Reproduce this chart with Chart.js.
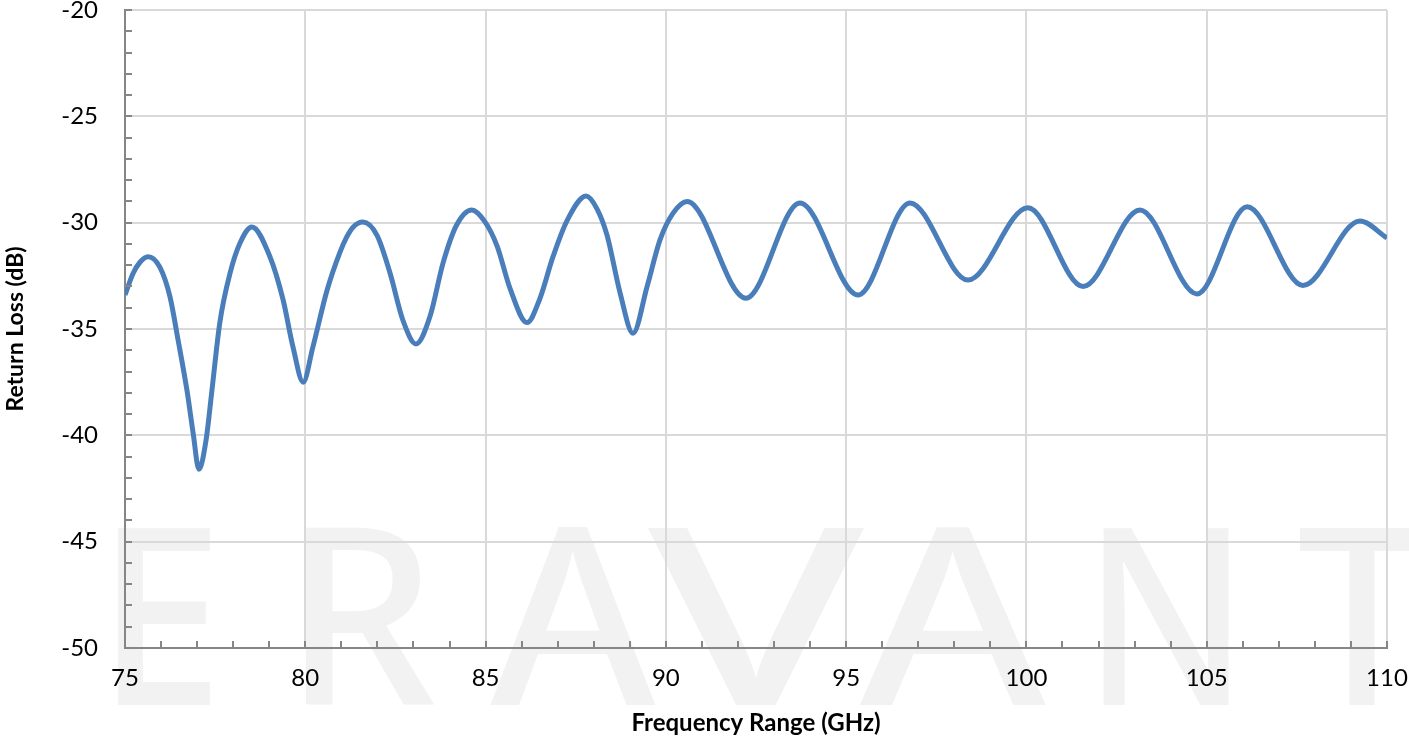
<!DOCTYPE html>
<html>
<head>
<meta charset="utf-8">
<script src="https://cdn.jsdelivr.net/npm/chart.js@4.4.1/dist/chart.umd.min.js"></script>
<style>
  html, body { margin: 0; padding: 0; background: #ffffff; }
  #wrap { width: 1409px; height: 740px; }
</style>
</head>
<body>
<div id="wrap"><canvas id="canvas-line" width="1409" height="740"></canvas></div>
<script>
// frequency points (GHz); denser where the dips are sharp
const frequency = [
  75.00, 75.22, 75.42, 75.64, 75.97, 76.25, 76.47, 76.72, 76.89, 77.05,
  77.25, 77.41, 77.63, 77.91, 78.19, 78.52, 79.02, 79.38, 79.66, 79.94,
  80.21, 80.60, 80.96, 81.15, 81.33, 81.60, 81.99, 82.35, 82.71, 83.07,
  83.46, 83.82, 84.20, 84.62, 84.98, 85.32, 85.68, 86.15, 86.50, 86.87,
  87.26, 87.79, 88.09, 88.37, 88.73, 89.09, 89.48, 89.84, 90.20, 90.59,
  92.22, 93.72, 95.33, 96.77, 98.38, 100.04, 101.57, 103.15, 104.73, 106.12,
  107.67, 109.25, 110.00,
];

// return loss (dB) at each of those points
const returnLoss = [
  -33.4, -32.4, -31.85, -31.6, -32.1, -33.5, -35.5, -37.9, -39.9, -41.6,
  -40.2, -37.9, -34.7, -32.4, -30.96, -30.2, -31.6, -33.6, -35.85, -37.5,
  -35.85, -33.2, -31.4, -30.67, -30.2, -29.97, -30.6, -32.37, -34.6, -35.7,
  -34.4, -31.9, -30.1, -29.4, -29.95, -31.1, -33.1, -34.7, -33.6, -31.6,
  -29.9, -28.75, -29.35, -30.6, -33.3, -35.2, -33.0, -30.8, -29.55, -29.0,
  -33.55, -29.07, -33.4, -29.07, -32.7, -29.3, -33.0, -29.4, -33.35, -29.25,
  -32.95, -29.92, -30.72,
];

const xMin = 75, xMax = 110, xStep = 5;
const yMin = -50, yMax = -20, yStep = 5;

// watermark letters: [letter, centre x, width]
const watermark = [
  ["E", 160, 127],
  ["R", 360, 153],
  ["A", 573, 165],
  ["V", 756, 216],
  ["A", 953, 186],
  ["N", 1166, 165],
  ["T", 1362, 130],
];

const FONT = "Lato, 'Open Sans', sans-serif";
const AXIS_GREY = "#868686";

window.onload = function () {
  const ctx = document.getElementById("canvas-line");

  const points = frequency.map((f, i) => ({ x: f, y: returnLoss[i] }));

  const backdrop = {
    id: "backdrop",
    beforeDraw(chart) {
      const c = chart.ctx;
      c.save();
      c.fillStyle = "#ffffff";
      c.fillRect(0, 0, chart.width, chart.height);
      c.fillStyle = "#f2f2f2";
      c.font = "500 248px 'Noto Sans', sans-serif";
      c.textAlign = "center";
      c.textBaseline = "alphabetic";
      watermark.forEach(([ch, cx, w]) => {
        const m = c.measureText(ch).width;
        c.save();
        c.translate(cx, 705);
        c.scale(w / m, 1);
        c.fillText(ch, 0, 0);
        c.restore();
      });
      c.restore();
    },
  };

  // small tick marks pointing into the plot, one every unit
  const minorTicks = {
    id: "minorTicks",
    afterDraw(chart) {
      const c = chart.ctx;
      const xs = chart.scales.x;
      const ys = chart.scales.y;
      const area = chart.chartArea;
      c.save();
      c.strokeStyle = AXIS_GREY;
      c.lineWidth = 2;
      c.beginPath();
      for (let v = xMin; v <= xMax; v++) {
        const px = Math.round(xs.getPixelForValue(v));
        c.moveTo(px, area.bottom);
        c.lineTo(px, area.bottom - 7);
      }
      for (let v = yMin; v <= yMax; v++) {
        const py = Math.round(ys.getPixelForValue(v));
        c.moveTo(area.left, py);
        c.lineTo(area.left + 7, py);
      }
      c.stroke();
      c.restore();
    },
  };

  const config = {
    type: "line",
    data: {
      datasets: [
        {
          label: "Return Loss",
          data: points,
          borderColor: "#4a7ebb",
          backgroundColor: "#4a7ebb",
          borderWidth: 5,
          pointRadius: 0,
          fill: false,
          cubicInterpolationMode: "monotone",
        },
      ],
    },
    options: {
      responsive: false,
      animation: false,
      devicePixelRatio: 1,
      layout: {
        padding: { top: 10, right: 22, left: 0, bottom: 0 },
      },
      scales: {
        x: {
          type: "linear",
          min: xMin,
          max: xMax,
          afterFit(scale) {
            scale.height = 92;
            scale.paddingLeft = 0;
            scale.paddingRight = 0;
          },
          ticks: {
            stepSize: xStep,
            color: "#000000",
            padding: 16,
            maxRotation: 0,
            font: { family: FONT, size: 24 },
          },
          grid: {
            color: "#d9d9d9",
            lineWidth: 2,
            drawTicks: false,
          },
          border: { display: true, color: AXIS_GREY, width: 2 },
          title: {
            display: true,
            text: "Frequency Range (GHz)",
            color: "#000000",
            padding: { top: 0, bottom: 2 },
            font: { family: FONT, size: 24, weight: "bold" },
          },
        },
        y: {
          type: "linear",
          min: yMin,
          max: yMax,
          afterFit(scale) {
            scale.width = 125;
            scale.paddingTop = 0;
            scale.paddingBottom = 0;
          },
          ticks: {
            stepSize: yStep,
            color: "#000000",
            padding: 27,
            font: { family: FONT, size: 24 },
          },
          grid: {
            color: "#d9d9d9",
            lineWidth: 2,
            drawTicks: false,
          },
          border: { display: true, color: AXIS_GREY, width: 2 },
          title: {
            display: true,
            text: "Return Loss (dB)",
            color: "#000000",
            padding: { top: 2, bottom: 0 },
            font: { family: FONT, size: 23, weight: "bold" },
          },
        },
      },
      plugins: {
        legend: { display: false },
        tooltip: { enabled: false },
      },
    },
    plugins: [backdrop, minorTicks],
  };

  const myChart = new Chart(ctx, config);
};
</script>
</body>
</html>
